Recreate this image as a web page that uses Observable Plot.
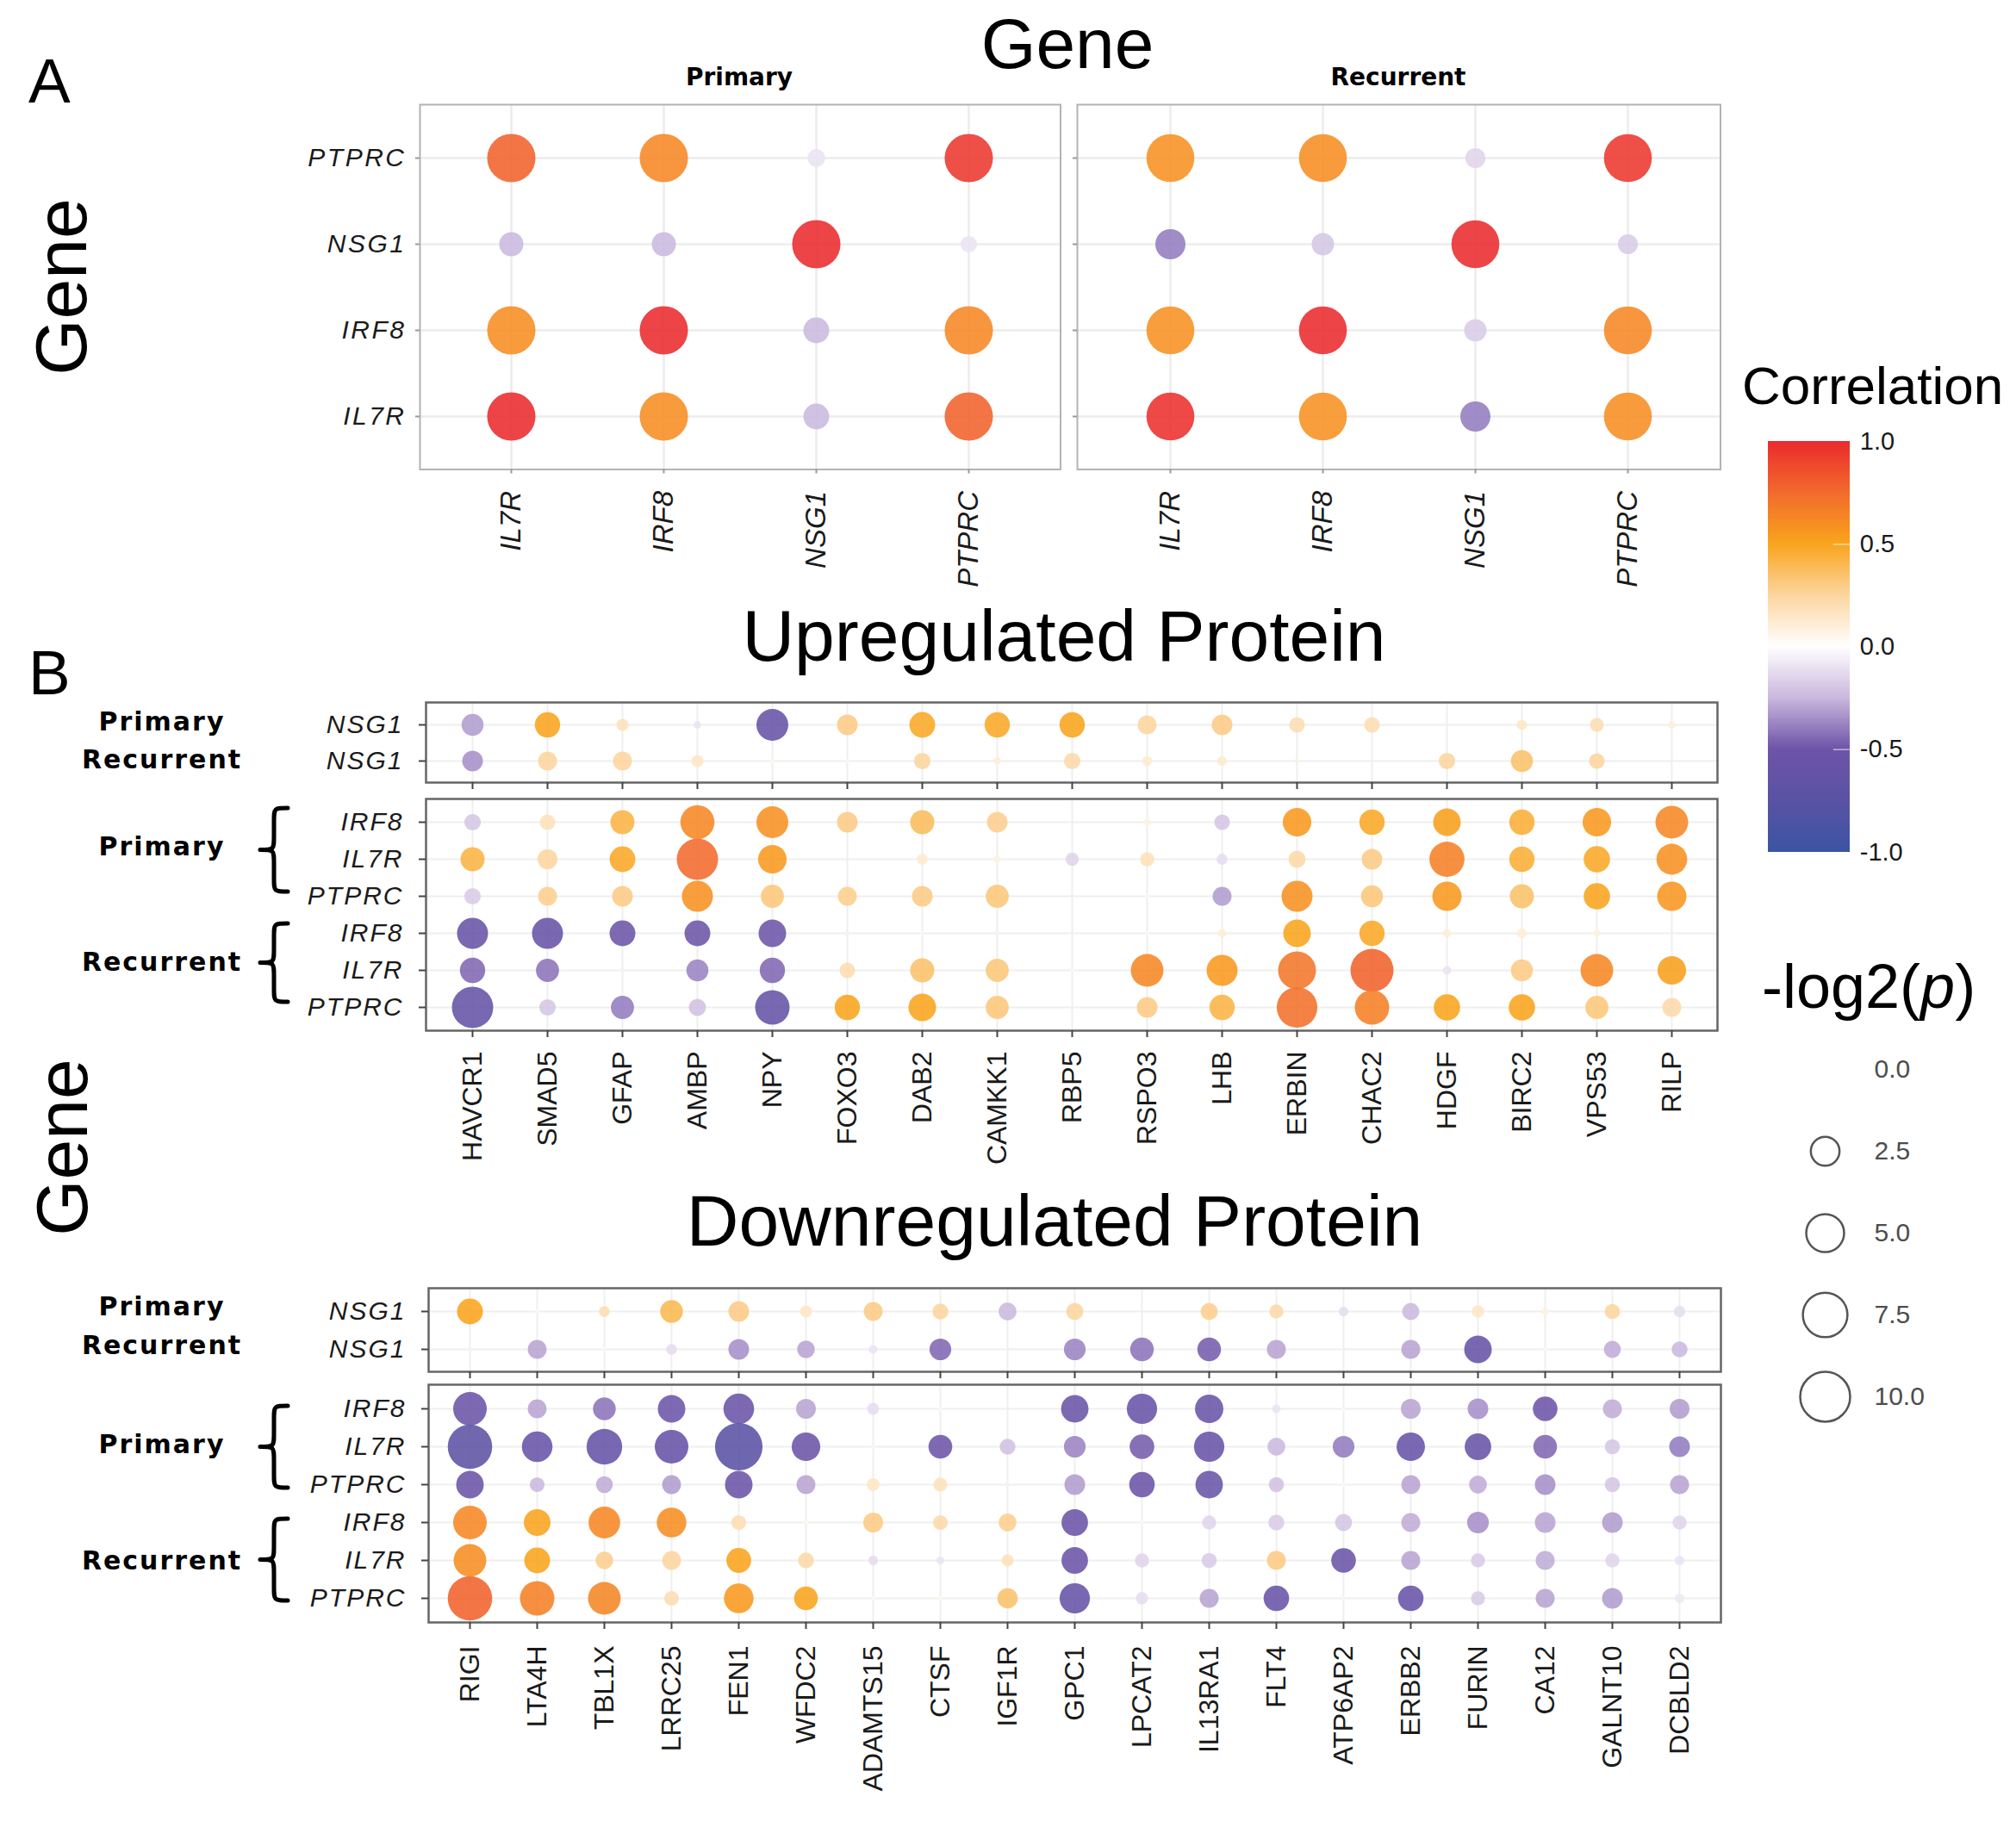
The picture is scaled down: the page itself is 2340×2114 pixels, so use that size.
<!DOCTYPE html>
<html><head><meta charset="utf-8">
<script src="https://cdn.jsdelivr.net/npm/d3@7"></script>
<script src="https://cdn.jsdelivr.net/npm/@observablehq/plot@0.6"></script>
<style>
html,body{margin:0;padding:0;background:#fff;}
#fig{position:relative;width:2340px;height:2114px;background:#fff;overflow:hidden;font-family:"Liberation Sans",Arial,sans-serif;}
.pnl{position:absolute;}
.pnl g[aria-label="x-axis tick label"], .pnl g[aria-label="y-axis tick label"]{fill:#1a1a1a;}
.pA g[aria-label="x-axis tick"], .pA g[aria-label="y-axis tick"]{stroke:#9a9a9a;stroke-width:2px;}
.pB g[aria-label="x-axis tick"], .pB g[aria-label="y-axis tick"]{stroke:#444;stroke-width:2px;}
.pA g[aria-label="x-axis tick label"]{font-style:italic;}
.pA g[aria-label="y-axis tick label"]{font-style:italic;letter-spacing:2.5px;}
.pB g[aria-label="y-axis tick label"]{font-style:italic;letter-spacing:2px;}
.ramp rect{shape-rendering:crispEdges;}
#overlay{position:absolute;left:0;top:0;pointer-events:none;}
</style>
</head><body><div id="fig"></div>
<script>
// ---------------- DATA ----------------
// Panel A: gene–gene correlation
const geneCols = ["IL7R","IRF8","NSG1","PTPRC"];
const geneRows = ["PTPRC","NSG1","IRF8","IL7R"];
const aPrimaryCorr = [
  [0.78, 0.62, -0.10, 0.95],
  [-0.25, -0.25, 1.00, -0.10],
  [0.60, 1.00, -0.25, 0.62],
  [1.00, 0.60, -0.25, 0.78]];
const aPrimaryLogp = [
  [9.2, 9.2, 0.77, 9.2],
  [1.62, 1.62, 9.2, 0.63],
  [9.2, 9.2, 1.92, 9.2],
  [9.2, 9.2, 1.92, 9.2]];
const aRecurrentCorr = [
  [0.58, 0.60, -0.15, 0.95],
  [-0.40, -0.20, 1.00, -0.18],
  [0.58, 1.00, -0.18, 0.62],
  [0.98, 0.58, -0.40, 0.60]];
const aRecurrentLogp = [
  [9.0, 9.0, 1.01, 9.0],
  [2.83, 1.35, 9.0, 1.01],
  [9.0, 9.0, 1.35, 9.0],
  [9.0, 9.0, 2.83, 9.0]];

// Panel B rows
const nsg1Rows = ["Primary|NSG1","Recurrent|NSG1"];
const immuneRows = ["Primary|IRF8","Primary|IL7R","Primary|PTPRC","Recurrent|IRF8","Recurrent|IL7R","Recurrent|PTPRC"];

// Upregulated proteins
const upCols = ["HAVCR1","SMAD5","GFAP","AMBP","NPY","FOXO3","DAB2","CAMKK1","RBP5","RSPO3","LHB","ERBIN","CHAC2","HDGF","BIRC2","VPS53","RILP"];
const upNsg1Corr = [
  [-0.32, 0.50, 0.18, -0.10, -0.60, 0.30, 0.48, 0.48, 0.50, 0.25, 0.30, 0.20, 0.20, 0.00, 0.15, 0.20, 0.10],
  [-0.35, 0.25, 0.25, 0.15, 0.05, 0.05, 0.25, 0.10, 0.22, 0.12, 0.12, 0.08, 0.00, 0.25, 0.35, 0.25, 0.00]];
const upNsg1Logp = [
  [1.29, 1.83, 0.29, 0.09, 3.25, 1.10, 1.92, 1.83, 1.83, 0.89, 1.10, 0.54, 0.54, 0, 0.19, 0.40, 0.07],
  [1.10, 0.89, 0.89, 0.29, 0.03, 0.02, 0.63, 0.09, 0.63, 0.17, 0.17, 0.03, 0, 0.63, 1.29, 0.54, 0]];
const upImmuneCorr = [
  [-0.20, 0.18, 0.42, 0.62, 0.58, 0.30, 0.38, 0.28, 0.00, 0.08, -0.20, 0.55, 0.48, 0.52, 0.45, 0.55, 0.62],
  [0.42, 0.25, 0.48, 0.75, 0.55, 0.00, 0.12, 0.08, -0.15, 0.18, -0.12, 0.22, 0.30, 0.65, 0.45, 0.48, 0.58],
  [-0.18, 0.28, 0.30, 0.58, 0.32, 0.28, 0.30, 0.32, 0.00, 0.05, -0.32, 0.58, 0.32, 0.55, 0.35, 0.50, 0.56],
  [-0.58, -0.60, -0.52, -0.52, -0.52, -0.05, 0.05, -0.05, 0.00, 0.05, 0.10, 0.50, 0.48, 0.10, 0.10, 0.08, 0.00],
  [-0.45, -0.42, -0.05, -0.38, -0.45, 0.20, 0.35, 0.32, 0.03, 0.62, 0.55, 0.70, 0.78, -0.10, 0.30, 0.62, 0.52],
  [-0.62, -0.20, -0.40, -0.22, -0.62, 0.50, 0.50, 0.32, 0.00, 0.30, 0.42, 0.72, 0.65, 0.50, 0.50, 0.32, 0.22]];
const upImmuneLogp = [
  [0.63, 0.54, 1.62, 3.85, 3.25, 1.10, 1.62, 1.10, 0, 0.07, 0.54, 2.48, 1.83, 2.26, 1.83, 2.48, 3.47],
  [1.62, 0.99, 1.92, 6.23, 2.48, 0, 0.23, 0.09, 0.36, 0.44, 0.23, 0.70, 1.10, 4.15, 1.83, 2.02, 2.99],
  [0.63, 0.89, 1.10, 3.04, 1.45, 0.89, 1.10, 1.45, 0, 0.03, 0.89, 3.04, 1.29, 2.63, 1.62, 2.02, 2.63],
  [3.04, 3.04, 1.92, 1.92, 2.26, 0.03, 0.02, 0.03, 0, 0.02, 0.12, 2.26, 1.83, 0.12, 0.17, 0.09, 0],
  [1.83, 1.45, 0.03, 1.29, 1.83, 0.54, 1.62, 1.45, 0.01, 3.47, 3.04, 5.01, 6.90, 0.12, 1.29, 3.47, 2.48],
  [6.23, 0.63, 1.45, 0.70, 3.95, 1.83, 2.26, 1.45, 0, 1.10, 1.83, 5.97, 3.95, 2.02, 2.02, 1.45, 0.89]];

// Downregulated proteins
const downCols = ["RIGI","LTA4H","TBL1X","LRRC25","FEN1","WFDC2","ADAMTS15","CTSF","IGF1R","GPC1","LPCAT2","IL13RA1","FLT4","ATP6AP2","ERBB2","FURIN","CA12","GALNT10","DCBLD2"];
const downNsg1Corr = [
  [0.50, 0.05, 0.20, 0.40, 0.30, 0.15, 0.30, 0.25, -0.25, 0.25, 0.00, 0.28, 0.22, -0.12, -0.25, 0.15, 0.08, 0.25, -0.12],
  [-0.05, -0.30, 0.05, -0.12, -0.35, -0.30, -0.10, -0.45, 0.00, -0.38, -0.42, -0.48, -0.30, 0.00, -0.30, -0.60, 0.05, -0.28, -0.25]];
const downNsg1Logp = [
  [1.92, 0.02, 0.22, 1.40, 1.10, 0.28, 0.89, 0.57, 0.77, 0.68, 0, 0.68, 0.43, 0.16, 0.68, 0.30, 0.09, 0.51, 0.25],
  [0.03, 0.87, 0.02, 0.22, 1.10, 0.75, 0.13, 1.24, 0, 1.24, 1.53, 1.53, 0.89, 0, 0.89, 2.26, 0.02, 0.68, 0.58]];
const downImmuneCorr = [
  [-0.55, -0.30, -0.42, -0.50, -0.55, -0.30, -0.12, 0.05, 0.00, -0.55, -0.58, -0.56, -0.10, 0.03, -0.30, -0.35, -0.50, -0.28, -0.32],
  [-0.72, -0.58, -0.62, -0.60, -0.75, -0.55, 0.05, -0.50, -0.22, -0.38, -0.48, -0.58, -0.25, -0.40, -0.58, -0.58, -0.45, -0.20, -0.40],
  [-0.55, -0.25, -0.28, -0.32, -0.55, -0.30, 0.15, 0.18, -0.05, -0.32, -0.55, -0.56, -0.22, 0.05, -0.30, -0.28, -0.35, -0.20, -0.30],
  [0.62, 0.50, 0.62, 0.60, 0.20, 0.05, 0.30, 0.22, 0.28, -0.55, 0.05, -0.15, -0.18, -0.20, -0.28, -0.35, -0.30, -0.32, -0.15],
  [0.60, 0.50, 0.28, 0.25, 0.50, 0.22, -0.12, -0.10, 0.18, -0.55, -0.15, -0.18, 0.30, -0.55, -0.30, -0.18, -0.28, -0.15, -0.10],
  [0.78, 0.65, 0.63, 0.20, 0.55, 0.50, 0.03, 0.05, 0.35, -0.62, -0.12, -0.30, -0.58, -0.03, -0.58, -0.18, -0.30, -0.32, -0.08]];
const downImmuneLogp = [
  [3.71, 0.87, 1.40, 2.26, 2.95, 0.99, 0.28, 0.03, 0, 2.23, 2.87, 2.44, 0.12, 0.01, 0.99, 1.10, 1.71, 0.89, 0.99],
  [7.47, 2.95, 4.30, 3.71, 8.84, 2.48, 0.02, 1.56, 0.57, 1.24, 1.71, 2.87, 0.77, 1.24, 2.44, 2.05, 1.53, 0.51, 1.10],
  [2.26, 0.48, 0.66, 0.87, 2.26, 0.87, 0.34, 0.40, 0.03, 1.10, 1.86, 2.23, 0.51, 0.02, 0.89, 0.77, 1.10, 0.51, 0.89],
  [3.71, 2.09, 3.21, 2.71, 0.48, 0.03, 0.99, 0.48, 0.77, 2.05, 0.01, 0.43, 0.58, 0.68, 0.89, 1.24, 1.10, 1.10, 0.43],
  [3.47, 1.92, 0.75, 0.87, 1.74, 0.57, 0.17, 0.10, 0.28, 2.05, 0.43, 0.51, 0.89, 1.71, 0.89, 0.43, 0.89, 0.43, 0.16],
  [7.47, 3.95, 3.47, 0.48, 2.71, 1.56, 0.01, 0.03, 1.05, 2.87, 0.30, 0.89, 1.86, 0.01, 1.86, 0.43, 0.89, 1.10, 0.16]];

// Legends
const corrTicks = [1, 0.5, 0, -0.5, -1];
const sizeBreaks = [0, 2.5, 5, 7.5, 10];

// ---------------- SCALES ----------------
const corrColor = {
  type: "linear",
  domain: [-1, -0.75, -0.5, -0.25, 0, 0.25, 0.5, 0.75, 1],
  range: ["#3c54a3", "#5a52a4", "#6e54a8", "#cbb8de", "#ffffff", "#fdd59e", "#f9a41c", "#f26a2c", "#eb2a2d"],
  interpolate: "rgb"
};
const sizeScale = {type: "pow", exponent: 0.4, domain: [0, 10], range: [0, 29]};

const fig = document.getElementById("fig");
const baseStyle = {background: "transparent", overflow: "visible", fontFamily: "Liberation Sans, Arial, sans-serif"};

function tidy(cols, rows, corr, logp) {
  const out = [];
  rows.forEach((row, i) => cols.forEach((col, j) => {
    if (logp[i][j] > 0) out.push({col, row, corr: corr[i][j], logp: logp[i][j]});
  }));
  return out;
}

function panel(o) {
  const [x0, y0, x1, y1] = o.box;
  const ML = 260, MR = 10, MT = 10, MB = 230;
  const w = x1 - x0 + ML + MR, h = y1 - y0 + MT + MB;
  const data = tidy(o.cols, o.rows, o.corr, o.logp);
  const yFmt = d => d.split("|").pop();
  const svg = Plot.plot({
    width: w, height: h, marginLeft: ML, marginRight: MR, marginTop: MT, marginBottom: MB,
    style: baseStyle,
    x: {type: "point", domain: o.cols, padding: 0.6, label: null},
    y: {type: "point", domain: o.rows, padding: 0.6, label: null},
    r: sizeScale,
    color: corrColor,
    marks: [
      Plot.ruleX(o.cols, {x: d => d, stroke: o.grid, strokeWidth: o.gridW}),
      Plot.ruleY(o.rows, {y: d => d, stroke: o.grid, strokeWidth: o.gridW}),
      Plot.dot(data, {x: "col", y: "row", r: "logp", fill: "corr", fillOpacity: 0.88}),
      Plot.frame({stroke: o.frame, strokeWidth: o.frameW}),
      Plot.axisX({tickSize: o.tick, tickPadding: o.xPad, tickRotate: -90, fontSize: o.xFont,
                  tickFormat: o.xLabels ? (d => d) : (() => ""), label: null}),
      Plot.axisY({tickSize: o.tick, tickPadding: o.yPad, fontSize: o.yFont,
                  tickFormat: o.yLabels ? yFmt : (() => ""), label: null})
    ]
  });
  const div = document.createElement("div");
  div.className = "pnl " + o.cls;
  div.style.left = (x0 - ML) + "px";
  div.style.top = (y0 - MT) + "px";
  div.appendChild(svg);
  fig.appendChild(div);
}

const styleA = {cls: "pA", grid: "#ececec", gridW: 2.5, frame: "#b3b3b3", frameW: 2, tick: 5, xPad: 20, yPad: 11, xFont: 33, yFont: 30};
const styleB = {cls: "pB", grid: "#efefef", gridW: 2, frame: "#666666", frameW: 2.5, tick: 8, xFont: 32, yFont: 30, yPad: 18};

// Panel A
panel({...styleA, cols: geneCols, rows: geneRows, corr: aPrimaryCorr, logp: aPrimaryLogp,
  box: [486.5, 120.5, 1230, 544], xLabels: true, yLabels: true});
panel({...styleA, cols: geneCols, rows: geneRows, corr: aRecurrentCorr, logp: aRecurrentLogp,
  box: [1249.5, 120.5, 1996, 544], xLabels: true, yLabels: false});

// Panel B upregulated
panel({...styleB, cols: upCols, rows: nsg1Rows, corr: upNsg1Corr, logp: upNsg1Logp,
  box: [494, 815, 1993, 908], xLabels: false, yLabels: true, xPad: 16});
panel({...styleB, cols: upCols, rows: immuneRows, corr: upImmuneCorr, logp: upImmuneLogp,
  box: [494, 927, 1993, 1196], xLabels: true, yLabels: true, xPad: 16});

// Panel B downregulated
panel({...styleB, cols: downCols, rows: nsg1Rows, corr: downNsg1Corr, logp: downNsg1Logp,
  box: [497, 1495, 1997, 1592], xLabels: false, yLabels: true, xPad: 19});
panel({...styleB, cols: downCols, rows: immuneRows, corr: downImmuneCorr, logp: downImmuneLogp,
  box: [497, 1607, 1997, 1883], xLabels: true, yLabels: true, xPad: 19});

// ---------------- LEGENDS ----------------
(function colorbar() {
  const ramp = d3.range(-1, 1, 0.004);
  const svg = Plot.plot({
    width: 98 + 200, height: 493 + 40, marginLeft: 0, marginRight: 200, marginTop: 20, marginBottom: 20,
    style: baseStyle,
    x: {domain: [0, 1], axis: null},
    y: {domain: [-1, 1], label: null},
    color: corrColor,
    marks: [
      Plot.rect(ramp, {x1: 0, x2: 1, y1: d => d, y2: d => Math.min(1, d + 0.009), fill: d => d}),
      Plot.ruleY([0.5, -0.5], {x1: 0.8, x2: 1, stroke: "white", strokeOpacity: 0.6, strokeWidth: 1.5}),
      Plot.axisY(corrTicks, {anchor: "right", tickSize: 0, tickPadding: 12, fontSize: 30, fill: "#4d4d4d",
        tickFormat: d => d.toFixed(1), label: null})
    ]
  });
  const div = document.createElement("div");
  div.className = "pnl ramp";
  div.style.left = "2052px"; div.style.top = "493px";
  div.appendChild(svg); fig.appendChild(div);
})();

(function sizeLegend() {
  const svg = Plot.plot({
    width: 300, height: 460, margin: 0, style: baseStyle,
    x: {domain: [0, 300], range: [0, 300], axis: null},
    y: {type: "point", domain: sizeBreaks, range: [39, 422], padding: 0, axis: null},
    r: sizeScale,
    marks: [
      Plot.dot(sizeBreaks, {x: 78, y: d => d, r: d => d, stroke: "#555", strokeWidth: 2.5, fill: "none"}),
      Plot.text(sizeBreaks, {x: 135, y: d => d, text: d => d.toFixed(1), textAnchor: "start", fontSize: 30, fill: "#4d4d4d"})
    ]
  });
  const div = document.createElement("div");
  div.className = "pnl";
  div.style.left = "2040px"; div.style.top = "1200px";
  div.appendChild(svg); fig.appendChild(div);
})();

// ---------------- STATIC TEXT / BRACES ----------------
const ov = d3.select(fig).append("svg").attr("id", "overlay").attr("width", 2340).attr("height", 2114)
  .style("font-family", "Liberation Sans, Arial, sans-serif");

function txt(x, y, s, size, opts = {}) {
  const t = ov.append("text").attr("x", x).attr("y", y).attr("font-size", size)
    .attr("text-anchor", opts.anchor || "start").attr("fill", opts.fill || "#000").text(s);
  if (opts.weight) t.attr("font-weight", opts.weight);
  if (opts.family) t.attr("font-family", opts.family);
  if (opts.ls) t.attr("letter-spacing", opts.ls);
  if (opts.rotate) t.attr("transform", `rotate(${opts.rotate},${x},${y})`);
  return t;
}
// panel letters and titles
txt(33, 119, "A", 73);
txt(33, 806, "B", 73);
txt(1239, 79, "Gene", 82, {anchor: "middle"});
txt(1235, 767, "Upregulated Protein", 84, {anchor: "middle"});
txt(1224, 1446, "Downregulated Protein", 84, {anchor: "middle"});
txt(100, 333, "Gene", 84, {anchor: "middle", rotate: -90});
txt(101, 1332, "Gene", 84, {anchor: "middle", rotate: -90});
// facet strips for A
txt(858, 99, "Primary", 28, {anchor: "middle", weight: "bold", family: "DejaVu Sans, sans-serif"});
txt(1623, 99, "Recurrent", 28, {anchor: "middle", weight: "bold", family: "DejaVu Sans, sans-serif"});
// group labels for B
const grp = [["Primary", 848], ["Recurrent", 892], ["Primary", 993], ["Recurrent", 1127],
             ["Primary", 1527], ["Recurrent", 1572], ["Primary", 1687], ["Recurrent", 1822]];
grp.forEach(([s, y]) => txt(188, y, s, 30, {anchor: "middle", weight: "bold", family: "DejaVu Sans, sans-serif", ls: "2px"}));
// braces
function bracePath(xr, y0, y1, w) {
  const xl = xr - w, xm = xr - w / 2, ym = (y0 + y1) / 2, c = w / 2;
  return `M${xr},${y0} C${xm},${y0} ${xm},${y0} ${xm},${y0 + c} L${xm},${ym - c} C${xm},${ym} ${xm},${ym} ${xl},${ym} ` +
         `C${xm},${ym} ${xm},${ym} ${xm},${ym + c} L${xm},${y1 - c} C${xm},${y1} ${xm},${y1} ${xr},${y1}`;
}
[[938, 1035], [1072, 1163], [1632, 1727], [1763, 1858]].forEach(([a, b]) =>
  ov.append("path").attr("d", bracePath(334, a, b, 32)).attr("fill", "none").attr("stroke", "#000")
    .attr("stroke-width", 5).attr("stroke-linecap", "round").attr("stroke-linejoin", "round"));
// legend titles
txt(2022, 469, "Correlation", 62);
const lt = txt(2045, 1170, "-log2(", 72);
lt.append("tspan").attr("font-style", "italic").text("p");
lt.append("tspan").text(")");
</script></body></html>
